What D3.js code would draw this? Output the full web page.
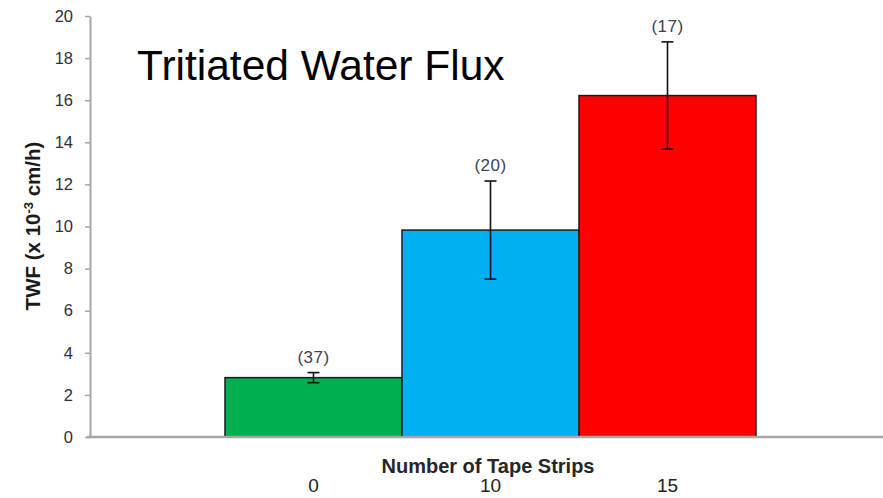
<!DOCTYPE html>
<html>
<head>
<meta charset="utf-8">
<script src="https://cdn.jsdelivr.net/npm/d3@7"></script>
<style>
  html, body { margin: 0; padding: 0; background: #fff; }
  svg { display: block; font-family: Arial, "Liberation Sans", sans-serif; }
</style>
</head>
<body>
<svg id="chart" width="883" height="498"></svg>
<script>
// Tape strip groups, mean TWF, standard error and sample sizes
const categories = ["0", "10", "15"];
const means = [2.82, 9.83, 16.22];
const errors = [0.24, 2.33, 2.55];
const counts = ["(37)", "(20)", "(17)"];
const barColors = ["#00b050", "#00b0f0", "#ff0000"];
const yTicks = [0, 2, 4, 6, 8, 10, 12, 14, 16, 18, 20];

const svg = d3.select("#chart");
const W = 883, H = 498;
const axisX = 90, axisTop = 16, axisBottom = 437;

const x = d3.scaleBand().domain(categories).range([225, 756]).padding(0);
const y = d3.scaleLinear().domain([0, 20]).range([axisBottom, axisTop]);

// y axis with ticks and labels
const yAxis = svg.append("g")
  .attr("transform", `translate(${axisX},0)`)
  .call(d3.axisLeft(y).tickValues(yTicks).tickSize(5).tickSizeOuter(0).tickPadding(12));
yAxis.select(".domain").attr("stroke", "#a6a6a6").attr("stroke-width", 2);
yAxis.selectAll(".tick line").attr("stroke", "#a6a6a6").attr("stroke-width", 1.5);
yAxis.selectAll(".tick text")
  .attr("fill", "#2e2e3a")
  .style("font-size", "16.5px")
  .style("font-family", "Arial, 'Liberation Sans', sans-serif");

// bars
svg.append("g").selectAll("rect")
  .data(categories)
  .join("rect")
  .attr("x", d => x(d))
  .attr("y", (d, i) => y(means[i]))
  .attr("width", x.bandwidth())
  .attr("height", (d, i) => y(0) - y(means[i]))
  .attr("fill", (d, i) => barColors[i])
  .attr("stroke", "#1a1a1a")
  .attr("stroke-width", 1.5);

// x axis baseline spanning to the right edge
svg.append("line")
  .attr("x1", axisX - 3).attr("x2", W)
  .attr("y1", axisBottom).attr("y2", axisBottom)
  .attr("stroke", "#a6a6a6").attr("stroke-width", 2.5);

// error bars
const eb = svg.append("g").attr("stroke", "#111").attr("stroke-width", 1.6);
categories.forEach((c, i) => {
  const cx = x(c) + x.bandwidth() / 2;
  const top = y(means[i] + errors[i]);
  const bot = y(means[i] - errors[i]);
  eb.append("line").attr("x1", cx).attr("x2", cx).attr("y1", top).attr("y2", bot);
  eb.append("line").attr("x1", cx - 6).attr("x2", cx + 6).attr("y1", top).attr("y2", top);
  eb.append("line").attr("x1", cx - 6).attr("x2", cx + 6).attr("y1", bot).attr("y2", bot);
});

// sample size labels above the error bars
svg.append("g").selectAll("text")
  .data(categories)
  .join("text")
  .attr("x", d => x(d) + x.bandwidth() / 2)
  .attr("y", (d, i) => y(means[i] + errors[i]) - 10)
  .attr("text-anchor", "middle")
  .attr("fill", "#404058")
  .style("font-size", "17px")
  .style("letter-spacing", "0.5px")
  .text((d, i) => counts[i]);

// x axis title and category labels
svg.append("text")
  .attr("x", 488).attr("y", 473)
  .attr("text-anchor", "middle")
  .attr("fill", "#262626")
  .style("font-size", "20px").style("font-weight", "bold")
  .text("Number of Tape Strips");

svg.append("g").selectAll("text")
  .data(categories)
  .join("text")
  .attr("x", d => x(d) + x.bandwidth() / 2)
  .attr("y", 492)
  .attr("text-anchor", "middle")
  .attr("fill", "#222")
  .style("font-size", "19px")
  .text(d => d);

// y axis title with superscript exponent
const yt = svg.append("text")
  .attr("transform", "translate(40,226) rotate(-90)")
  .attr("text-anchor", "middle")
  .attr("fill", "#1a1a1a")
  .style("font-size", "20.5px").style("font-weight", "bold");
yt.append("tspan").text("TWF (x 10");
yt.append("tspan").attr("dy", -7).style("font-size", "13px").text("-3");
yt.append("tspan").attr("dy", 7).text(" cm/h)");

// chart title
svg.append("text")
  .attr("x", 137).attr("y", 80)
  .attr("fill", "#000")
  .style("font-size", "42.5px")
  .text("Tritiated Water Flux");
</script>
</body>
</html>
